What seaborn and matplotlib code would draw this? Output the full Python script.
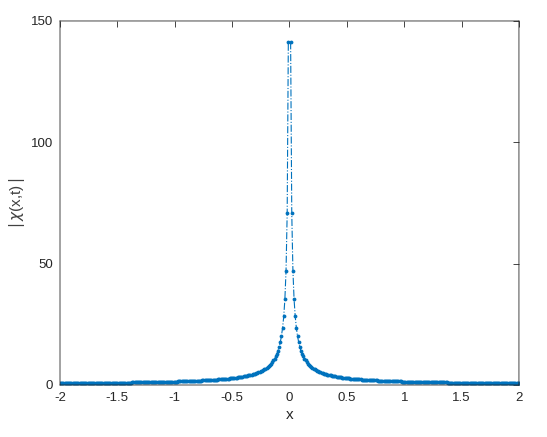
import numpy as np
import matplotlib
matplotlib.use("Agg")
import matplotlib.pyplot as plt
import seaborn as sns

chi_right = [
    141.42, 70.71, 47.14, 35.36, 28.28, 23.57, 20.20, 17.68, 15.71, 14.14,
    12.86, 11.79, 10.88, 10.10, 9.43, 8.84, 8.32, 7.86, 7.44, 7.07,
    6.73, 6.43, 6.15, 5.89, 5.66, 5.44, 5.24, 5.05, 4.88, 4.71,
    4.56, 4.42, 4.29, 4.16, 4.04, 3.93, 3.82, 3.72, 3.63, 3.54,
    3.45, 3.37, 3.29, 3.21, 3.14, 3.07, 3.01, 2.95, 2.89, 2.83,
    2.77, 2.72, 2.67, 2.62, 2.57, 2.53, 2.48, 2.44, 2.40, 2.36,
    2.32, 2.28, 2.24, 2.21, 2.18, 2.14, 2.11, 2.08, 2.05, 2.02,
    1.99, 1.96, 1.94, 1.91, 1.89, 1.86, 1.84, 1.81, 1.79, 1.77,
    1.75, 1.72, 1.70, 1.68, 1.66, 1.64, 1.63, 1.61, 1.59, 1.57,
    1.55, 1.54, 1.52, 1.50, 1.49, 1.47, 1.46, 1.44, 1.43, 1.41,
    1.40, 1.39, 1.37, 1.36, 1.35, 1.33, 1.32, 1.31, 1.30, 1.29,
    1.27, 1.26, 1.25, 1.24, 1.23, 1.22, 1.21, 1.20, 1.19, 1.18,
    1.17, 1.16, 1.15, 1.14, 1.13, 1.12, 1.11, 1.10, 1.10, 1.09,
    1.08, 1.07, 1.06, 1.06, 1.05, 1.04, 1.03, 1.02, 1.02, 1.01,
    1.00, 1.00, 0.99, 0.98, 0.98, 0.97, 0.96, 0.96, 0.95, 0.94,
    0.94, 0.93, 0.92, 0.92, 0.91, 0.91, 0.90, 0.90, 0.89, 0.88,
    0.88, 0.87, 0.87, 0.86, 0.86, 0.85, 0.85, 0.84, 0.84, 0.83,
    0.83, 0.82, 0.82, 0.81, 0.81, 0.80, 0.80, 0.79, 0.79, 0.79,
    0.78, 0.78, 0.77, 0.77, 0.76, 0.76, 0.76, 0.75, 0.75, 0.74,
    0.74, 0.74, 0.73, 0.73, 0.73, 0.72, 0.72, 0.71, 0.71, 0.71,
]
x_right = np.round(np.arange(1, len(chi_right) + 1) * 0.01, 2)

# the curve is symmetric about x = 0
x_vals = np.concatenate([-x_right[::-1], x_right])
chi_vals = np.concatenate([chi_right[::-1], chi_right])

x_ticks = [-2, -1.5, -1, -0.5, 0, 0.5, 1, 1.5, 2]
x_tick_labels = ["-2", "-1.5", "-1", "-0.5", "0", "0.5", "1", "1.5", "2"]
y_ticks = [0, 50, 100, 150]

sns.set_theme(style="white")
plt.rcParams["font.family"] = ["Liberation Sans", "DejaVu Sans"]
plt.rcParams["mathtext.fontset"] = "dejavusans"
plt.rcParams["path.snap"] = False

fig = plt.figure(figsize=(5.47, 4.37), dpi=100)
ax = fig.add_axes([0.1097, 0.119, 0.839, 0.833])

sns.lineplot(x=x_vals, y=chi_vals, ax=ax, color="#0072BD", linestyle="-.",
             linewidth=0.8, marker=".", markersize=5.5, markeredgewidth=0,
             sort=True)
for ln in ax.lines:
    ln.set_snap(False)

ax.set_xlim(-2, 2)
ax.set_ylim(0, 150)
ax.set_xticks(x_ticks)
ax.set_xticklabels(x_tick_labels)
ax.set_yticks(y_ticks)
ax.tick_params(direction="in", length=4, width=0.6, colors="#262626",
               labelsize=9.5, top=True, right=True, pad=5)
for s in ax.spines.values():
    s.set_color("#262626")
    s.set_linewidth(0.6)

ax.set_xlabel("x", fontsize=11, color="#262626", labelpad=3)
ax.set_ylabel(r"$|\,\chi$(x,t)$\,|$", fontsize=11, color="#404040", labelpad=3)

plt.savefig("out.png", dpi=100)
